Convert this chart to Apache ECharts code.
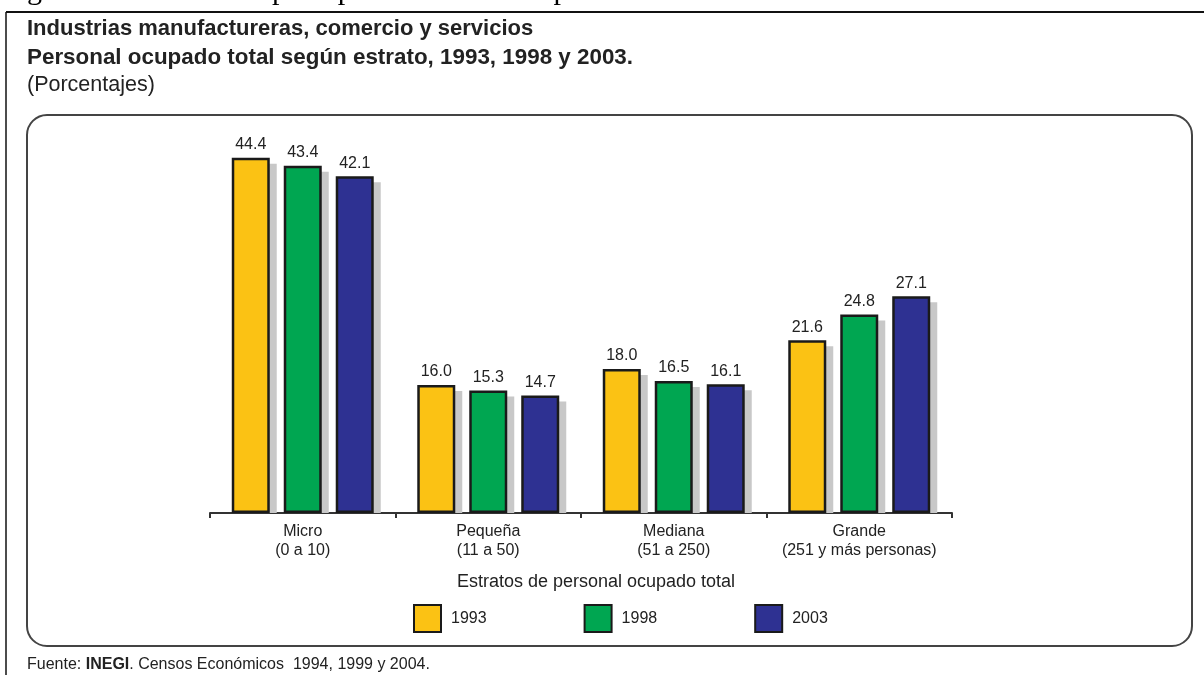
<!DOCTYPE html>
<html>
<head>
<meta charset="utf-8">
<script src="https://cdn.jsdelivr.net/npm/echarts@6/dist/echarts.min.js"></script>
<style>
  html, body { margin: 0; padding: 0; background: #fff; }
  #chart { width: 1204px; height: 675px; }
</style>
</head>
<body>
<div id="chart"></div>
<script>
// categorias y valores (porcentajes)
var categories = ['Micro\n(0 a 10)', 'Pequeña\n(11 a 50)', 'Mediana\n(51 a 250)', 'Grande\n(251 y más personas)'];
var years = ['1993', '1998', '2003'];
var data1993 = [44.4, 16.0, 18.0, 21.6];
var data1998 = [43.4, 15.3, 16.5, 24.8];
var data2003 = [42.1, 14.7, 16.1, 27.1];
var colors = ['#fbc214', '#00a651', '#2e3192'];

var font = 'Liberation Sans, Arial, sans-serif';
var BAR_W = 38;
var BAR_GAP = 14;

// datos para la sombra gris detras de cada barra
var shadowData = [];
[data1993, data1998, data2003].forEach(function (arr, k) {
  arr.forEach(function (v, i) { shadowData.push([i, v, k]); });
});

function makeSeries(name, data, color) {
  return {
    name: name,
    type: 'bar',
    data: data,
    z: 3,
    barWidth: BAR_W,
    barGap: (BAR_GAP / BAR_W * 100).toFixed(1) + '%',
    itemStyle: {
      color: color,
      borderColor: '#1a1a1a',
      borderWidth: 2.5
    },
    label: {
      show: true,
      position: 'top',
      distance: 5,
      color: '#222',
      fontFamily: font,
      fontSize: 16,
      formatter: function (p) { return p.value.toFixed(1); }
    }
  };
}

function renderShadow(params, api) {
  var cat = api.value(0), val = api.value(1), k = api.value(2);
  var top = api.coord([cat, val]);
  var base = api.coord([cat, 0]);
  var cx = top[0] + (k - 1) * (BAR_W + BAR_GAP);
  return {
    type: 'rect',
    shape: { x: cx - BAR_W / 2 + 7, y: top[1] + 6, width: BAR_W, height: base[1] - top[1] - 6 },
    style: { fill: '#c8c8c8' }
  };
}

var chart = echarts.init(document.getElementById('chart'));
chart.setOption({
  animation: false,
  grid: { left: 210, right: 252, top: 113, bottom: 162 },
  xAxis: {
    type: 'category',
    data: categories,
    name: 'Estratos de personal ocupado total',
    nameLocation: 'middle',
    nameGap: 60,
    nameTextStyle: { color: '#222', fontFamily: font, fontSize: 18, padding: [0, 0, 0, 30] },
    axisLine: { lineStyle: { color: '#333', width: 2 } },
    axisTick: { show: true, interval: 0, length: 5, lineStyle: { color: '#333', width: 2 } },
    axisLabel: { interval: 0, color: '#222', fontFamily: font, fontSize: 16, lineHeight: 19, margin: 9 }
  },
  yAxis: {
    type: 'value',
    min: 0,
    max: 50,
    show: false
  },
  legend: {
    left: 413,
    top: 604,
    padding: 0,
    icon: 'rect',
    itemWidth: 27,
    itemHeight: 27,
    itemGap: 97,
    data: years,
    textStyle: { color: '#222', fontFamily: font, fontSize: 16, padding: [0, 0, 0, 5] }
  },
  series: [
    makeSeries(years[0], data1993, colors[0]),
    makeSeries(years[1], data1998, colors[1]),
    makeSeries(years[2], data2003, colors[2]),
    {
      type: 'custom',
      name: 'sombra',
      z: 1,
      silent: true,
      renderItem: renderShadow,
      encode: { x: 0, y: 1 },
      data: shadowData
    }
  ],
  graphic: [
    { type: 'text', left: 2, top: -24, style: { text: 'Figura 1. Personal ocupado por tamaño de empresa', fill: '#000', font: '30px "Liberation Serif", serif' } },
    { type: 'line', shape: { x1: 6, y1: 12, x2: 1204, y2: 12 }, style: { stroke: '#111', lineWidth: 2 } },
    { type: 'line', shape: { x1: 6, y1: 12, x2: 6, y2: 675 }, style: { stroke: '#111', lineWidth: 1.5 } },
    { type: 'text', left: 27, top: 18, style: { text: 'Industrias manufactureras, comercio y servicios', fill: '#222', font: 'bold 22px ' + font } },
    { type: 'text', left: 27, top: 47, style: { text: 'Personal ocupado total según estrato, 1993, 1998 y 2003.', fill: '#222', font: 'bold 22.4px ' + font } },
    { type: 'text', left: 27, top: 74, style: { text: '(Porcentajes)', fill: '#222', font: '21.5px ' + font } },
    { type: 'rect', shape: { x: 27, y: 115, width: 1165, height: 531, r: 20 }, style: { fill: 'none', stroke: '#444', lineWidth: 2 }, z: -1 },
    {
      type: 'text', left: 27, top: 657,
      style: {
        text: '{n|Fuente: }{b|INEGI}{n|. Censos Económicos  1994, 1999 y 2004.}',
        rich: {
          n: { fill: '#222', font: '16px ' + font },
          b: { fill: '#222', font: 'bold 16px ' + font }
        }
      }
    }
  ]
});
</script>
</body>
</html>
